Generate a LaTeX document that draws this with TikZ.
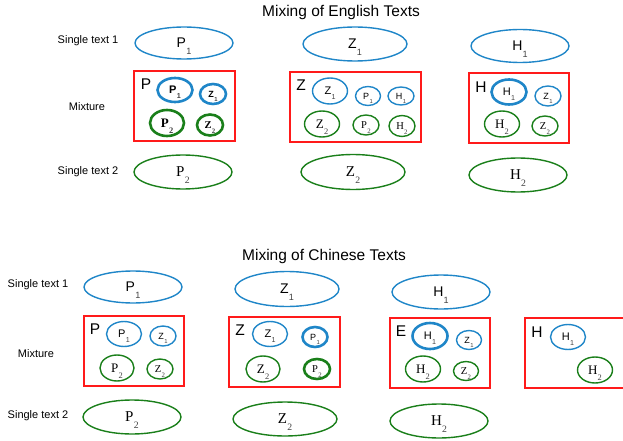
\documentclass[tikz,border=0pt]{standalone}
\usepackage{fontspec}
\usepackage{graphicx}
\setmainfont{Liberation Sans}
\newfontfamily\srf{Liberation Serif}
\usetikzlibrary{shapes.geometric}
\definecolor{bl}{HTML}{1F86C8}
\definecolor{gr}{HTML}{1A7F1A}
\definecolor{rd}{HTML}{FF1A1A}
\newcommand\lab[2]{#1\kern0.3pt\raisebox{-0.45em}[0pt][0pt]{\scalebox{0.65}{\color{black!75}#2}}}
\tikzset{
  be/.style={ellipse, draw=bl, line width=1.4pt, inner sep=0pt},
  ge/.style={ellipse, draw=gr, line width=1.4pt, inner sep=0pt},
  thk/.style={line width=2.6pt},
  sz/.style args={#1x#2}{minimum width=#1pt, minimum height=#2pt},
  redbox/.style={draw=rd, line width=2pt, inner sep=0pt},
  lbl/.style={font=\fontsize{11}{13}\selectfont},
  ttl/.style={font=\fontsize{15.5}{18}\selectfont},
  boxl/.style={font=\fontsize{15.5}{18}\selectfont, inner sep=0pt},
  bs/.style={font=\fontsize{14}{16}\selectfont},
  br/.style={font=\srf\fontsize{15}{17}\selectfont},
  ms/.style={font=\fontsize{11}{13}\selectfont},
  mr/.style={font=\srf\fontsize{13}{15}\selectfont},
  ss/.style={font=\fontsize{9}{11}\selectfont},
  sr/.style={font=\srf\fontsize{10.5}{12}\selectfont},
}
\begin{document}
\begin{tikzpicture}[x=1pt,y=-1pt]
\useasboundingbox (0,0) rectangle (623,441);
% ===== English =====
\node[ttl] (t1) at (341,12) {Mixing of English Texts};
\node[lbl] (l1) at (88,41) {Single text 1};
\node[lbl] (l2) at (87,107) {Mixture};
\node[lbl] (l3) at (88,172) {Single text 2};
\node[be, sz=98x32, bs] (ep1) at (184,43) {\lab{P}{1}};
\node[be, sz=104x34, bs] (ez1) at (355,44) {\lab{Z}{1}};
\node[be, sz=98x33, bs] (eh1) at (520,46) {\lab{H}{1}};
\node[ge, sz=98x34, br] (ep2) at (183,172) {\lab{P}{2}};
\node[ge, sz=104x35, br] (ez2) at (353,172) {\lab{Z}{2}};
\node[ge, sz=98x34, br] (eh2) at (518,175) {\lab{H}{2}};
% boxes
\node[redbox, minimum width=101pt, minimum height=70pt] (ebp) at (184.5,106) {};
\node[redbox, minimum width=131pt, minimum height=70pt] (ebz) at (355.5,107) {};
\node[redbox, minimum width=100pt, minimum height=70pt] (ebh) at (519,108) {};
\node[boxl] (ebpl) at (146,84) {P};
\node[boxl] (ebzl) at (301,85) {Z};
\node[boxl] (ebhl) at (481,87) {H};
% P box
\node[be, thk, sz=35x24, ms] (a1) at (175,90) {\bfseries\lab{P}{1}};
\node[be, thk, sz=26x20, ss] (a2) at (213,94) {\bfseries\lab{Z}{1}};
\node[ge, thk, sz=34x26, mr] (a3) at (167,123) {\bfseries\lab{P}{2}};
\node[ge, thk, sz=26x21, sr] (a4) at (210,125) {\bfseries\lab{Z}{2}};
% Z box
\node[be, sz=35x26, ms] (b1) at (330,91) {\lab{Z}{1}};
\node[be, sz=25x19, ss] (b2) at (368,96) {\lab{P}{1}};
\node[be, sz=26x18, ss] (b3) at (401,96) {\lab{H}{1}};
\node[ge, sz=35x26, mr] (b4) at (322,124) {\lab{Z}{2}};
\node[ge, sz=26x20, sr] (b5) at (366,125) {\lab{P}{2}};
\node[ge, sz=26x21, sr] (b6) at (402,126) {\lab{H}{2}};
% H box
\node[be, thk, sz=35x25, ms] (c1) at (509,92) {\lab{H}{1}};
\node[be, sz=26x20, ss] (c2) at (548,96) {\lab{Z}{1}};
\node[ge, sz=35x26, mr] (c3) at (502,124) {\lab{H}{2}};
\node[ge, sz=26x20, sr] (c4) at (545,126) {\lab{Z}{2}};
% ===== Chinese =====
\node[ttl] (t2) at (324,256) {Mixing of Chinese Texts};
\node[lbl] (m1) at (38,285) {Single text 1};
\node[lbl] (m2) at (36,354) {Mixture};
\node[lbl] (m3) at (38,416) {Single text 2};
\node[be, sz=98x32, bs] (fp1) at (133,287) {\lab{P}{1}};
\node[be, sz=104x35, bs] (fz1) at (287,289) {\lab{Z}{1}};
\node[be, sz=98x34, bs] (fh1) at (441,292) {\lab{H}{1}};
\node[ge, sz=98x34, br] (fp2) at (132,417) {\lab{P}{2}};
\node[ge, sz=104x34, br] (fz2) at (285,419) {\lab{Z}{2}};
\node[ge, sz=98x34, br] (fh2) at (439,421) {\lab{H}{2}};
% boxes
\node[redbox, minimum width=100pt, minimum height=70pt] (fbp) at (134,351) {};
\node[redbox, minimum width=111pt, minimum height=70pt] (fbz) at (284.5,352) {};
\node[redbox, minimum width=100pt, minimum height=70pt] (fbe) at (440,353) {};
\coordinate (hb1) at (624,318);
\coordinate (hb2) at (525,318);
\coordinate (hb3) at (525,388);
\coordinate (hb4) at (624,388);
\draw[rd, line width=2pt] (hb1) -- (hb2) -- (hb3) -- (hb4);
\node[boxl] (fbpl) at (95,329) {P};
\node[boxl] (fbzl) at (240,330) {Z};
\node[boxl] (fbel) at (401,331) {E};
\node[boxl] (fbhl) at (537,332) {H};
% P box
\node[be, sz=35x25, ms] (g1) at (124,334) {\lab{P}{1}};
\node[be, sz=26x20, ss] (g2) at (163,336) {\lab{Z}{1}};
\node[ge, sz=34x26, mr] (g3) at (117,368) {\lab{P}{2}};
\node[ge, sz=26x20, sr] (g4) at (160,369) {\lab{Z}{2}};
% Z box
\node[be, sz=35x25, ms] (h1) at (270,334) {\lab{Z}{1}};
\node[be, thk, sz=25x20, ss] (h2) at (315,337) {\lab{P}{1}};
\node[ge, sz=34x26, mr] (h3) at (263,369) {\lab{Z}{2}};
\node[ge, thk, sz=26x20, sr] (h4) at (317,369) {\lab{P}{2}};
% E box
\node[be, thk, sz=35x26, ms] (k1) at (430,336) {\lab{H}{1}};
\node[be, sz=25x19, ss] (k2) at (469,340) {\lab{Z}{1}};
\node[ge, sz=35x26, mr] (k3) at (423,369) {\lab{H}{2}};
\node[ge, sz=25x19, sr] (k4) at (466,371) {\lab{Z}{2}};
% H box
\node[be, sz=35x25, ms] (n1) at (568,337) {\lab{H}{1}};
\node[ge, sz=35x26, mr] (n2) at (595,370) {\lab{H}{2}};
\end{tikzpicture}
\end{document}
